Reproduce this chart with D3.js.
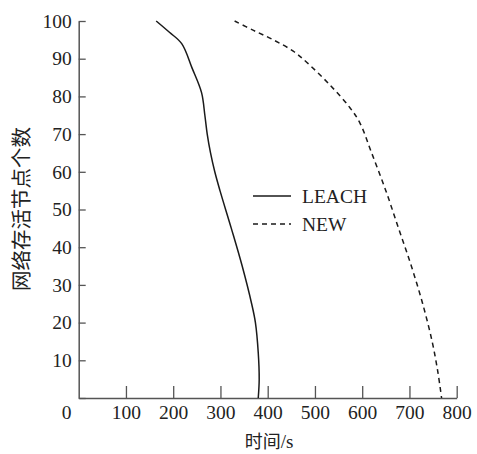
<!DOCTYPE html>
<html>
<head>
<meta charset="utf-8">
<script src="https://cdn.jsdelivr.net/npm/d3@7"></script>
<style>
  html, body { margin: 0; padding: 0; background: #fff; }
  svg { display: block; }
</style>
</head>
<body>
<svg id="chart" width="477" height="454"></svg>
<script>
// Data
const leachTime  = [164, 192, 218, 240, 260, 267, 272, 279, 288, 299, 323, 346, 366, 374, 380, 382, 380];
const leachNodes = [100, 97, 94, 87.5, 81, 75, 70, 65, 60, 55, 45, 35, 25, 20, 12, 5, 0];
const newTime    = [330, 370, 412, 454, 483, 532, 574, 595, 620, 650, 677, 704, 728, 748, 760, 768];
const newNodes   = [100, 97.5, 95, 92, 89, 83, 77, 73, 65, 55, 45, 35, 25, 15, 7, 0];
const seriesNames = ["LEACH", "NEW"];
const xTicks = [0, 100, 200, 300, 400, 500, 600, 700, 800];
const yTicks = [0, 10, 20, 30, 40, 50, 60, 70, 80, 90, 100];
const xTitle = "时间/s";
const yTitle = "网络存活节点个数";

const svg = d3.select("#chart");
const x = d3.scaleLinear().domain([0, 800]).range([78.7, 456.7]);
const y = d3.scaleLinear().domain([0, 100]).range([398, 21]);

const serif = "'Liberation Serif', 'Times New Roman', serif";
const cjk = "'Noto Sans CJK SC', sans-serif";
const axisColor = "#555";
const textColor = "#222";

// X axis (ticks pointing up/inside)
const gx = svg.append("g").attr("transform", `translate(0,${y(0)})`)
  .call(d3.axisBottom(x).tickValues(xTicks).tickSizeInner(-12).tickSizeOuter(0).tickPadding(20).tickFormat(d3.format("d")));
gx.select(".domain").attr("stroke", axisColor).attr("stroke-width", 1.5);
gx.selectAll(".tick line").attr("stroke", axisColor).attr("stroke-width", 1.3);
gx.selectAll(".tick").filter(d => d === 0).select("line").remove();
gx.selectAll(".tick text").attr("font-family", serif).attr("font-size", 19.5).attr("fill", textColor)
  .attr("dy", "0.32em").attr("y", 15);
gx.selectAll(".tick").filter(d => d === 0).select("text").attr("dx", -12.5);

// Y axis (ticks pointing right/inside)
const gy = svg.append("g").attr("transform", `translate(${x(0)},0)`)
  .call(d3.axisLeft(y).tickValues(yTicks).tickSizeInner(-7).tickSizeOuter(0).tickPadding(7)
    .tickFormat(d => d === 0 ? "" : d));
gy.select(".domain").attr("stroke", axisColor).attr("stroke-width", 1.5);
gy.selectAll(".tick line").attr("stroke", axisColor).attr("stroke-width", 1.3);
gy.selectAll(".tick text").attr("font-family", serif).attr("font-size", 19.5).attr("fill", textColor)
  .attr("x", -7);

// Lines
const line = d3.line().x(d => x(d[0])).y(d => y(d[1])).curve(d3.curveCatmullRom.alpha(0.5));
const leachData = leachTime.map((t, i) => [t, leachNodes[i]]);
const newData = newTime.map((t, i) => [t, newNodes[i]]);

svg.append("path").datum(leachData).attr("d", line)
  .attr("fill", "none").attr("stroke", "#1a1a1a").attr("stroke-width", 1.5);
svg.append("path").datum(newData).attr("d", line)
  .attr("fill", "none").attr("stroke", "#1a1a1a").attr("stroke-width", 1.5)
  .attr("stroke-dasharray", "5,4");

// Legend
const legend = svg.append("g");
const dashes = [null, "5,4"];
seriesNames.forEach((name, i) => {
  const ly = 196 + i * 28;
  legend.append("line").attr("x1", 253).attr("x2", 291).attr("y1", ly).attr("y2", ly)
    .attr("stroke", "#1a1a1a").attr("stroke-width", 1.5)
    .attr("stroke-dasharray", dashes[i]);
  legend.append("text").attr("x", 302).attr("y", ly).attr("dy", "0.34em")
    .attr("font-family", serif).attr("font-size", 19.5).attr("fill", textColor).text(name);
});

// Axis titles
const xt = svg.append("text").attr("x", 269).attr("y", 442).attr("dy", "0.35em")
  .attr("text-anchor", "middle").attr("fill", textColor).attr("font-size", 18);
xt.append("tspan").attr("font-family", cjk).text(xTitle.slice(0, 2));
xt.append("tspan").attr("font-family", serif).attr("font-size", 19).text(xTitle.slice(2));

svg.append("text").attr("transform", `translate(22,209) rotate(-90)`)
  .attr("dy", "0.35em").attr("text-anchor", "middle")
  .attr("font-family", cjk).attr("font-size", 20.5).attr("fill", textColor).text(yTitle);
</script>
</body>
</html>
